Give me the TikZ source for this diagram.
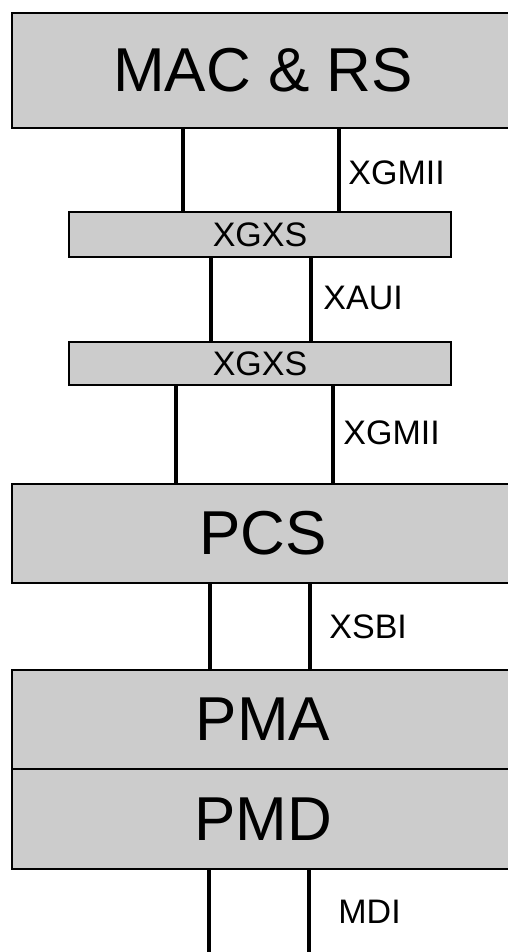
\documentclass[tikz,border=0pt]{standalone}
\usepackage{xcolor}
\usepackage{tikz}
\usepackage{fontspec}
\setmainfont{Liberation Sans}
\definecolor{LayerFill}{HTML}{cccccc}

\tikzset{
  layerbox/.style={draw, line width=1.2pt, fill=LayerFill, inner sep=0pt, text centered, font=\fontsize{31}{36}\selectfont},
  sublayer/.style={draw, line width=1.2pt, fill=LayerFill, inner sep=0pt, text centered, font=\fontsize{17}{20}\selectfont},
  link/.style={line width=1.7pt},
  iface/.style={anchor=west, inner sep=0pt, font=\fontsize{17}{20}\selectfont},
}

\begin{document}
\begin{tikzpicture}[x=0.5pt, y=-0.5pt]%
\useasboundingbox (0,0) rectangle (508,952);%
\clip (0,0) rectangle (508,952);%
% layers, top to bottom
\node[layerbox, minimum width=251pt, minimum height=57.5pt] (mac) at (263, 70.5) {MAC \& RS};%
\node[sublayer, minimum width=191pt, minimum height=22.5pt] (xgxsA) at (260, 234.5) {XGXS};%
\node[sublayer, minimum width=191pt, minimum height=21.5pt] (xgxsB) at (260, 363.5) {XGXS};%
\node[layerbox, minimum width=251pt, minimum height=49.5pt] (pcs) at (263, 533.5) {PCS};%
\node[layerbox, minimum width=251pt, minimum height=49.5pt] (pma) at (263, 719.5) {PMA};%
\node[layerbox, minimum width=251pt, minimum height=50pt] (pmd) at (263, 819) {PMD};%
\coordinate (media) at (263, 960);%
% interfaces between the layers
\draw[link] (183,0 |- mac.south) -- (183,0 |- xgxsA.north);%
\draw[link] (339,0 |- mac.south) -- (339,0 |- xgxsA.north);%
\node[iface] (xgmiiA) at (348, 173) {XGMII};%
\draw[link] (211,0 |- xgxsA.south) -- (211,0 |- xgxsB.north);%
\draw[link] (311,0 |- xgxsA.south) -- (311,0 |- xgxsB.north);%
\node[iface] (xaui) at (323, 298) {XAUI};%
\draw[link] (176,0 |- xgxsB.south) -- (176,0 |- pcs.north);%
\draw[link] (333,0 |- xgxsB.south) -- (333,0 |- pcs.north);%
\node[iface] (xgmiiB) at (343, 433) {XGMII};%
\draw[link] (210,0 |- pcs.south) -- (210,0 |- pma.north);%
\draw[link] (310,0 |- pcs.south) -- (310,0 |- pma.north);%
\node[iface] (xsbi) at (329, 627) {XSBI};%
\draw[link] (209,0 |- pmd.south) -- (209,0 |- media);%
\draw[link] (309,0 |- pmd.south) -- (309,0 |- media);%
\node[iface] (mdi) at (338, 912) {MDI};%
\end{tikzpicture}
\end{document}
